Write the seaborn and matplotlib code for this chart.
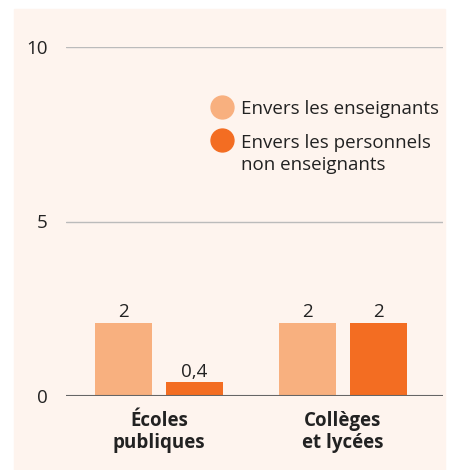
import numpy as np
import pandas as pd
import seaborn as sns
import matplotlib.pyplot as plt
from matplotlib.lines import Line2D
from matplotlib.patches import Rectangle
from matplotlib.legend_handler import HandlerLine2D

# Data
categories = ["Écoles\npubliques", "Collèges\net lycées"]
series = ["Envers les enseignants", "Envers les personnels\nnon enseignants"]
teachers = [2.1, 2.1]
non_teachers = [0.4, 2.1]
teachers_labels = ["2", "2"]
non_teachers_labels = ["0,4", "2"]

colors = ["#F8B07F", "#F36D22"]
bg = "#FEF4EE"

df = pd.DataFrame({
    "categorie": categories * 2,
    "serie": [series[0]] * 2 + [series[1]] * 2,
    "valeur": teachers + non_teachers,
})


class HandlerTop(HandlerLine2D):
    # marker aligned on the first line of a two-line label
    def __init__(self, dy, **kw):
        super().__init__(**kw)
        self.dy = dy

    def create_artists(self, legend, orig_handle, xdescent, ydescent,
                       width, height, fontsize, trans):
        arts = super().create_artists(legend, orig_handle, xdescent, ydescent,
                                      width, height, fontsize, trans)
        for a in arts:
            a.set_ydata(np.asarray(a.get_ydata()) + self.dy)
        return arts


sns.set_style("white")
plt.rcParams["font.family"] = ["Open Sans", "DejaVu Sans"]

fig = plt.figure(figsize=(4.49, 4.70), dpi=100)
fig.patches.append(Rectangle((14 / 449, 0), 431 / 449, 1 - 9 / 470,
                             transform=fig.transFigure, color=bg, zorder=-10))
ax = fig.add_axes([66 / 449, 1 - 396 / 470, 377 / 449, 349 / 470])
ax.set_facecolor("none")

sns.barplot(data=df, x="categorie", y="valeur", hue="serie", palette=colors,
            saturation=1, linewidth=0, width=0.772, gap=0.197, legend=False,
            ax=ax, zorder=3)

for cont, labs in zip(ax.containers, [teachers_labels, non_teachers_labels]):
    ax.bar_label(cont, labels=labs, padding=1, fontsize=13.5, color="#222222")

ax.set_ylim(0, 10)
ax.set_xlim(-0.505, 1.545)
ax.set_yticks([0, 5, 10])
ax.set_yticklabels(["0", "5", "10"])
ax.yaxis.grid(True, color="#BBBBBB", linewidth=1)
ax.set_axisbelow(True)
ax.axhline(0, color="#666666", linewidth=1.5, zorder=4)
for s in ax.spines.values():
    s.set_visible(False)
ax.tick_params(axis="y", length=0, pad=13, labelsize=13.5, labelcolor="#222222")
ax.tick_params(axis="x", length=0, pad=11, labelsize=13.5, labelcolor="#222222")
for lab in ax.get_xticklabels():
    lab.set_fontweight("bold")
    lab.set_linespacing(1.1)
ax.set_xlabel("")
ax.set_ylabel("")

handles = [Line2D([], [], marker="o", linestyle="", markersize=16.5,
                  markerfacecolor=c, markeredgecolor=c) for c in colors]
leg = ax.legend(handles, series, loc="upper left", bbox_to_anchor=(0.362, 0.875),
                frameon=False, fontsize=13.5, handlelength=1.1, handletextpad=0.45,
                labelspacing=0.85, borderpad=0, labelcolor="#222222",
                handler_map={handles[1]: HandlerTop(10.5)})
for t in leg.get_texts():
    t.set_linespacing(1.3)

fig.savefig("out.png", dpi=100)
